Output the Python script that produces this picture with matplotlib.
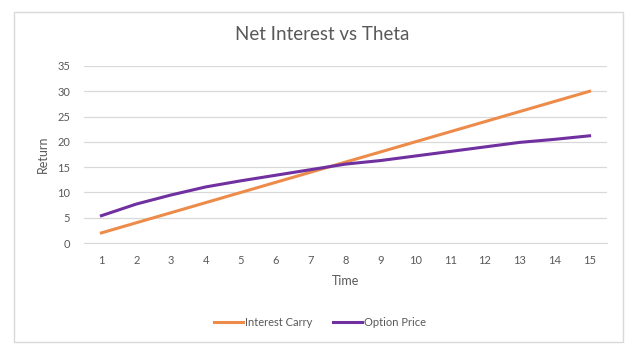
import matplotlib
matplotlib.use("Agg")
from matplotlib import pyplot as plt
from matplotlib.patches import Rectangle

plt.rcParams['font.family'] = ['Lato', 'DejaVu Sans']

time = [1, 2, 3, 4, 5, 6, 7, 8, 9, 10, 11, 12, 13, 14, 15]
interest_carry = [2, 4, 6, 8, 10, 12, 14, 16, 18, 20, 22, 24, 26, 28, 30]
option_price = [5.4, 7.7, 9.5, 11.1, 12.3, 13.4, 14.5, 15.6, 16.3, 17.2, 18.1, 19.0, 19.9, 20.5, 21.2]
yticks = [0, 5, 10, 15, 20, 25, 30, 35]

grey = '#595959'

fig = plt.figure(figsize=(6.4, 3.54), dpi=100)
# chart border
fig.patches.append(Rectangle((14 / 640, 1 - 342 / 354), (623 - 14) / 640, (342 - 12) / 354,
                             transform=fig.transFigure, fill=False, edgecolor='#d9d9d9', lw=1))

ax = fig.add_axes([84 / 640, 1 - 243 / 354, (607 - 84) / 640, (243 - 66) / 354])
ax.plot(time, interest_carry, color='#ed8c4a', lw=2.2, label='Interest Carry')
ax.plot(time, option_price, color='#7030a0', lw=2.2, label='Option Price')

ax.set_xlim(0.5, 15.5)
ax.set_ylim(0, 35)
ax.set_xticks(time)
ax.set_yticks(yticks)
ax.grid(axis='y', color='#d9d9d9', lw=0.9)
ax.set_axisbelow(True)
for s in ['top', 'right', 'left']:
    ax.spines[s].set_visible(False)
ax.spines['bottom'].set_color('#d9d9d9')
ax.tick_params(length=0, labelsize=8, labelcolor=grey)
ax.tick_params(axis='x', pad=9)
ax.tick_params(axis='y', pad=10)

ax.set_xlabel('Time', fontsize=9, color=grey, labelpad=6)
ax.set_ylabel('Return', fontsize=9, color=grey, labelpad=6)
fig.text(0.503, 1 - 35 / 354, 'Net Interest vs Theta', ha='center', va='center',
         fontsize=13.5, color=grey)

fig.legend(loc='center', bbox_to_anchor=(0.5, 1 - 322 / 354), ncol=2, frameon=False,
           fontsize=8, labelcolor=grey, handlelength=2.6, handletextpad=0.2, columnspacing=1.8)

fig.savefig('out.png', dpi=100)
